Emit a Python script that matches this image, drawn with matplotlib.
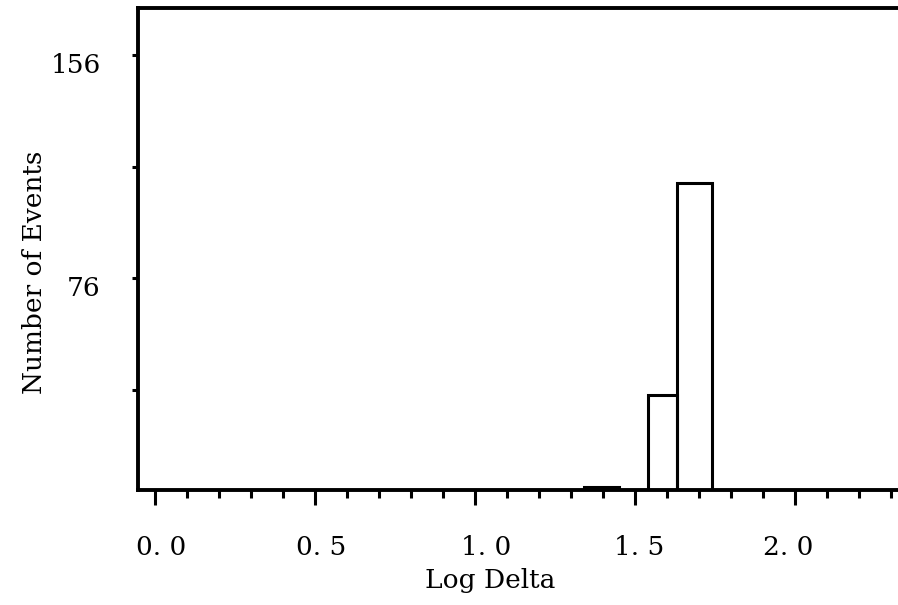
import matplotlib.pyplot as plt
from matplotlib.transforms import blended_transform_factory, ScaledTranslation

# histogram bins (left edge, width, count)
bin_lefts = [1.34, 1.54, 1.63]
bin_widths = [0.11, 0.09, 0.11]
counts = [1, 34, 110]

x_major = [0.0, 0.5, 1.0, 1.5, 2.0]
x_minor = [i / 10 for i in range(0, 24)]
# the typed labels sit a little off their ticks in the original
x_label_pos = [0.019, 0.519, 1.034, 1.513, 1.978]
x_labels = ['0. 0', '0. 5', '1. 0', '1. 5', '2. 0']

y_ticks = [36, 76, 116, 156]
y_labels = ['', '76', '', '156']

font = 'DejaVu Serif'
fs = 19

fig = plt.figure(figsize=(8.98, 6.05), dpi=100)
ax = fig.add_axes([0.1537, 0.19, 0.8463, 0.797])

ax.bar(bin_lefts, counts, width=bin_widths, align='edge', fill=False,
       edgecolor='black', linewidth=2.2)

ax.set_xlim(-0.053, 2.322)
ax.set_ylim(0, 173)

for side in ['left', 'bottom', 'top']:
    ax.spines[side].set_linewidth(2.8)
ax.spines['right'].set_visible(False)

ax.set_xticks(x_major)
ax.set_xticks(x_minor, minor=True)
ax.set_xticklabels([])
ax.tick_params(axis='x', which='major', direction='out', length=11, width=2.2)
ax.tick_params(axis='x', which='minor', direction='out', length=6, width=2.2)

ax.set_yticks(y_ticks)
ax.set_yticklabels(y_labels, fontsize=fs, family=font)
ax.tick_params(axis='y', direction='out', length=4, width=2.2, pad=23)
shift = ScaledTranslation(0, -13 / 72, fig.dpi_scale_trans)
for lab in ax.get_yticklabels():
    lab.set_va('baseline')
    lab.set_transform(lab.get_transform() + shift)

trans = blended_transform_factory(ax.transData, ax.transAxes)
for xp, lab in zip(x_label_pos, x_labels):
    ax.text(xp, -0.135, lab, transform=trans, ha='center', va='baseline',
            fontsize=fs, family=font)

ax.set_xlabel('Log Delta', fontsize=fs, family=font)
ax.xaxis.set_label_coords(0.463, -0.162)
ax.set_ylabel('Number of Events', fontsize=fs, family=font)
ax.yaxis.set_label_coords(-0.12, 0.452)

fig.savefig('out.png', dpi=100)
